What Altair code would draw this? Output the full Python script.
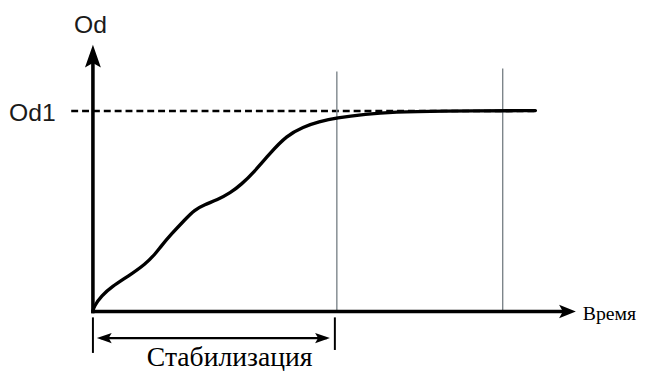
import altair as alt
import pandas as pd

# ---------------- data (schematic units: time t, Od value) ----------------
curve_t = [0.0, 0.0, 0.004, 0.036, 0.077, 0.146, 0.215, 0.255, 0.279, 0.320, 0.377,
           0.417, 0.457, 0.510, 0.563, 0.610, 0.660, 0.725, 0.794, 0.862,
           0.927, 0.996, 1.117, 1.239, 1.401, 1.814, 1.814]
curve_od = [0.0, 0.0, 0.025, 0.079, 0.123, 0.177, 0.236, 0.286, 0.325, 0.384, 0.458,
            0.507, 0.532, 0.557, 0.591, 0.635, 0.695, 0.788, 0.877, 0.921,
            0.946, 0.966, 0.985, 0.995, 1.0, 1.002, 1.002]

od1_level = 1.0
od1_dash_start = -0.089
od1_dash_end = 1.814

marker_t = [1.0, 1.68]
marker_top = [1.197, 1.212]

stab_start = 0.0
stab_end = 1.0

x_axis_end = 1.98
y_axis_end = 1.33

y_title = "Od"
level_label = "Od1"
x_title = "Время"
span_label = "Стабилизация"

# ---------------- layout ----------------
W, H = 640, 363
PX_T, PX_V = 247.0, 203.0
ORIGIN_X, ORIGIN_Y = 86.0, 305.0
xmin, xmax = -ORIGIN_X / PX_T, (W - ORIGIN_X) / PX_T
ymax, ymin = ORIGIN_Y / PX_V, -(H - ORIGIN_Y) / PX_V

xs = alt.Scale(domain=[xmin, xmax], nice=False, zero=False)
ys = alt.Scale(domain=[ymin, ymax], nice=False, zero=False)
X = lambda f: alt.X(f, type="quantitative", scale=xs, axis=None)
Y = lambda f: alt.Y(f, type="quantitative", scale=ys, axis=None)

ARROW = "M0,-1L0.7,1L0,0.6L-0.7,1Z"
ARROW2 = "M0,-1L0.8,1L0,0.55L-0.8,1Z"
SERIF = "Times New Roman, Liberation Serif, Tinos, DejaVu Serif, Noto Serif, serif"
SANS = "Liberation Sans, Arial, Helvetica, sans-serif"

# curve
curve_df = pd.DataFrame({"t": curve_t, "od": curve_od})
curve = alt.Chart(curve_df).mark_line(
    color="black", strokeWidth=3.4, interpolate="basis", strokeCap="round"
).encode(x=X("t"), y=Y("od"))

# dashed Od1 line
dash_df = pd.DataFrame({"x": [od1_dash_start], "x2": [od1_dash_end],
                        "y": [od1_level]})
dash = alt.Chart(dash_df).mark_rule(
    color="black", strokeWidth=2.4, strokeDash=[7, 4]
).encode(x=X("x"), x2="x2", y=Y("y"))

# vertical gray markers
mark_df = pd.DataFrame({"x": marker_t, "y": [0.0, 0.0], "y2": marker_top})
markers = alt.Chart(mark_df).mark_rule(color="#7d858a", strokeWidth=1.4).encode(
    x=X("x"), y=Y("y"), y2="y2")

# axes
px2t = lambda p: p / PX_T
px2v = lambda p: p / PX_V
axes_df = pd.DataFrame({
    "x": [0.0, 0.0],
    "x2": [x_axis_end - px2t(9), 0.0],
    "y": [0.0, 0.0],
    "y2": [0.0, y_axis_end - px2v(12)],
})
axes = alt.Chart(axes_df).mark_rule(
    color="black", strokeWidth=3.6, strokeCap="square"
).encode(x=X("x"), x2="x2", y=Y("y"), y2="y2")

yhead = alt.Chart(pd.DataFrame({"x": [0.0], "y": [y_axis_end - px2v(11.5)]})).mark_point(
    shape=ARROW, filled=True, color="black", size=23 * 23, opacity=1, strokeWidth=0
).encode(x=X("x"), y=Y("y"))

xhead = alt.Chart(pd.DataFrame({"x": [x_axis_end - px2t(8.5)], "y": [0.0]})).mark_point(
    shape=ARROW2, filled=True, color="black", size=17 * 17, angle=90, opacity=1,
    strokeWidth=0
).encode(x=X("x"), y=Y("y"))

# stabilisation span: end ticks + double arrow
tick_df = pd.DataFrame({"x": [stab_start, stab_end - px2t(2)],
                        "y": [-px2v(6), -px2v(6)],
                        "y2": [-px2v(42), -px2v(39)]})
ticks = alt.Chart(tick_df).mark_rule(color="black", strokeWidth=2).encode(
    x=X("x"), y=Y("y"), y2="y2")

span_y = -px2v(27)
span_df = pd.DataFrame({"x": [stab_start + px2t(8)], "x2": [stab_end - px2t(10)],
                        "y": [span_y]})
span = alt.Chart(span_df).mark_rule(color="black", strokeWidth=2.2).encode(
    x=X("x"), x2="x2", y=Y("y"))
lhead = alt.Chart(pd.DataFrame({"x": [stab_start + px2t(4 + 7.5)], "y": [span_y]})).mark_point(
    shape=ARROW, filled=True, color="black", size=15 * 15, angle=270, opacity=1,
    strokeWidth=0
).encode(x=X("x"), y=Y("y"))
rhead = alt.Chart(pd.DataFrame({"x": [stab_end - px2t(7 + 7.5)], "y": [span_y]})).mark_point(
    shape=ARROW, filled=True, color="black", size=15 * 15, angle=90, opacity=1,
    strokeWidth=0
).encode(x=X("x"), y=Y("y"))

# labels
def label(text, x, y, align, font, size, color="#1a1a1a"):
    df = pd.DataFrame({"x": [x], "y": [y], "label": [text]})
    return alt.Chart(df).mark_text(
        align=align, baseline="alphabetic", font=font, fontSize=size, color=color
    ).encode(x=X("x"), y=Y("y"), text="label:N")

t_od = label(y_title, -px2t(2.5), px2v(282), "center", SANS, 25)
t_od1 = label(level_label, -px2t(85), px2v(193), "left", SANS, 25)
t_time = label(x_title, x_axis_end + px2t(7), -px2v(9), "left", SERIF, 20, "black")
t_span = label(span_label, (stab_start + stab_end) / 2 + px2t(15), -px2v(55),
               "center", SERIF, 28, "black")

chart = alt.layer(
    dash, markers, curve, axes, yhead, xhead, ticks, span, lhead, rhead,
    t_od, t_od1, t_time, t_span
).properties(
    width=W, height=H, padding=0, autosize=alt.AutoSizeParams(type="none"),
    background="white"
).configure_view(stroke=None)

chart.save("out.html", embed_options={"renderer": "svg", "actions": False})
